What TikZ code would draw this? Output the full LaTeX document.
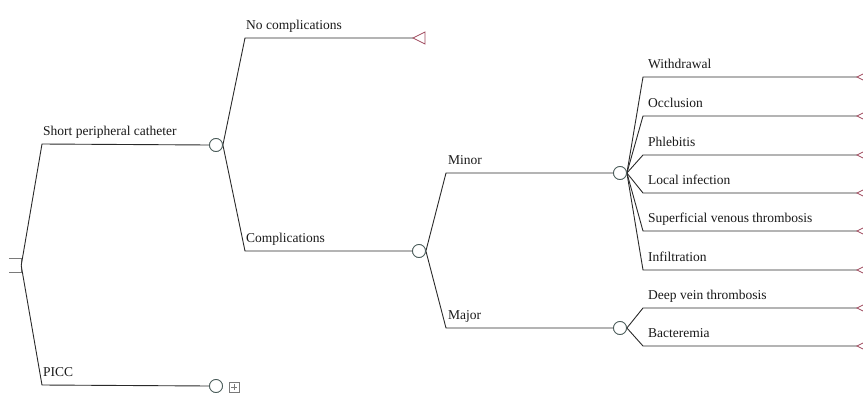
\documentclass[tikz,border=0pt]{standalone}
\usepackage{fontspec}
\setmainfont{Liberation Serif}
\definecolor{linecol}{HTML}{2A2A2A}
\definecolor{chancecol}{HTML}{4A5C5A}
\definecolor{termcol}{HTML}{A04A5E}
\definecolor{boxcol}{HTML}{7A7A7A}
\tikzset{
  branch/.style={draw=linecol,line width=0.9pt},
  chance/.style={circle,draw=chancecol,line width=0.8pt,minimum size=13pt,inner sep=0pt,fill=white},
  decision/.style={rectangle,minimum width=12pt,minimum height=13pt,inner sep=0pt},
  termtri/.style={draw=termcol,line width=0.8pt,fill=white},
  lab/.style={anchor=base west,inner sep=0pt,text=black!90,font=\fontsize{13.5}{15}\selectfont},
  plusbox/.style={rectangle,draw=boxcol,line width=0.6pt,minimum size=10pt,inner sep=0pt}
}
\begin{document}
\begin{tikzpicture}[x=1pt,y=-1pt]
\useasboundingbox (0,0) rectangle (863,394);
% root decision (left edge cut off by the frame)
\node[decision] (root) at (15,265.5) {};
\draw[draw=boxcol,line width=0.9pt] (root.north west) -- (root.north east) -- (root.south east) -- (root.south west);
% chance nodes
\node[chance] (c1) at (216,145) {};
\node[chance] (picc) at (216,386) {};
\node[plusbox] (pb) at (234,387) {};
\draw[boxcol,line width=0.6pt] ([xshift=-3pt]pb.center) -- ([xshift=3pt]pb.center)
  ([yshift=-3pt]pb.center) -- ([yshift=3pt]pb.center);
\node[chance] (c2) at (419,251) {};
\node[chance] (cmin) at (620,173) {};
\node[chance] (cmaj) at (620,328) {};
% bend coordinates
\coordinate (b1) at (42,144);
\coordinate (b2) at (42,385);
\coordinate (b3) at (245,38);
\coordinate (b4) at (245,251);
\coordinate (b5) at (446,173);
\coordinate (b6) at (446,328);
\coordinate (t0) at (413,38);
% root branches
\draw[branch] (root.east) -- (b1) -- (c1.west);
\draw[branch] (root.east) -- (b2) -- (picc.west);
% chance 1
\draw[branch] (c1.east) -- (b3) -- (t0);
\draw[branch] (c1.east) -- (b4) -- (c2.west);
\draw[termtri] (t0) -- ++(12,-6) -- ++(0,12) -- cycle;
% chance 2
\draw[branch] (c2.east) -- (b5) -- (cmin.west);
\draw[branch] (c2.east) -- (b6) -- (cmaj.west);
% minor outcomes
\foreach \n/\y in {w/77,o/116,p/155,l/193,s/231,i/270}{
  \coordinate (m\n) at (643,\y);
  \coordinate (t\n) at (857,\y);
  \draw[branch] (cmin.east) -- (m\n) -- (t\n);
  \draw[termtri] (t\n) -- ++(12,-6) -- ++(0,12) -- cycle;
}
\foreach \n/\y in {d/308,b/346}{
  \coordinate (m\n) at (643,\y);
  \coordinate (t\n) at (857,\y);
  \draw[branch] (cmaj.east) -- (m\n) -- (t\n);
  \draw[termtri] (t\n) -- ++(12,-6) -- ++(0,12) -- cycle;
}
% redraw nodes on top
\node[chance] at (c1) {};
\node[chance] at (picc) {};
\node[chance] at (c2) {};
\node[chance] at (cmin) {};
\node[chance] at (cmaj) {};
% labels
\node[lab] (l1) at (43,135) {Short peripheral catheter};
\node[lab] (l2) at (43,376) {PICC};
\node[lab] (l3) at (246,29) {No complications};
\node[lab] (l4) at (246,242) {Complications};
\node[lab] (l5) at (448,164) {Minor};
\node[lab] (l6) at (448,319) {Major};
\node[lab] at (648,68) {Withdrawal};
\node[lab] at (648,107) {Occlusion};
\node[lab] at (648,146) {Phlebitis};
\node[lab] at (648,184) {Local infection};
\node[lab] at (648,222) {Superficial venous thrombosis};
\node[lab] at (648,261) {Infiltration};
\node[lab] at (648,299) {Deep vein thrombosis};
\node[lab] at (648,337) {Bacteremia};
\end{tikzpicture}
\end{document}
